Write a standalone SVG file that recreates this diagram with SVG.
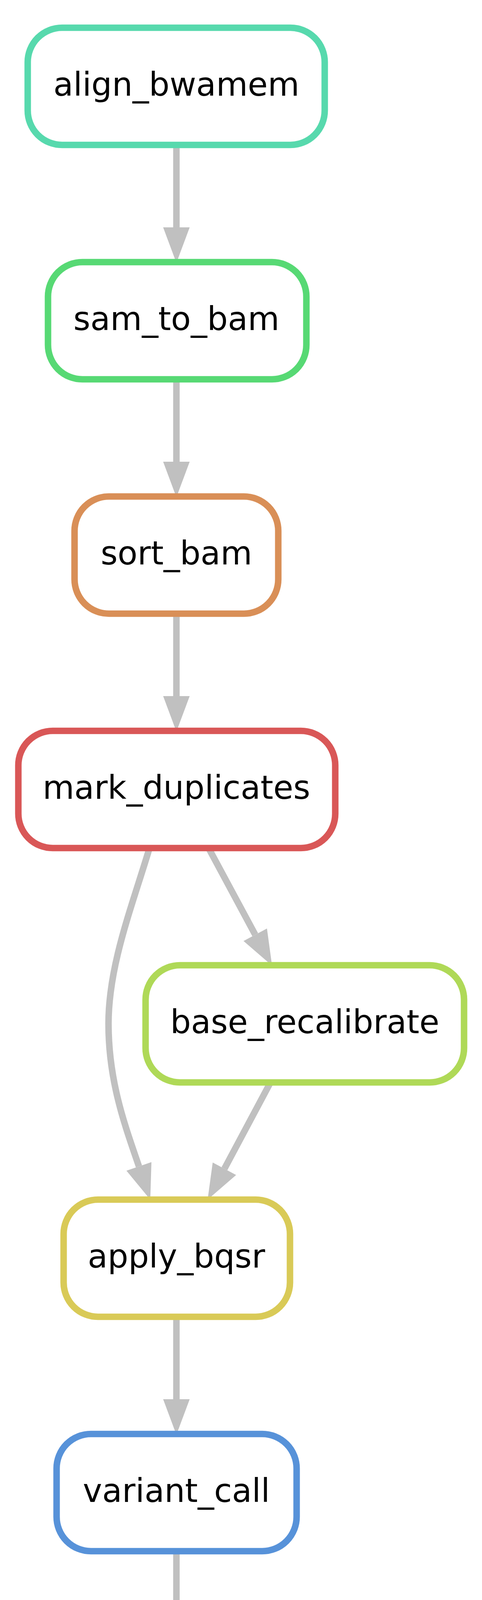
<svg xmlns="http://www.w3.org/2000/svg" width="1235" height="4636" viewBox="0 0 1235 4636">
<style>
.node rect{fill:#ffffff;stroke-width:16.7}
.node text{font-family:"DejaVu Sans","Liberation Sans",sans-serif;font-size:83.35px;fill:#000000;text-anchor:middle}
.edge path{fill:none;stroke:#c0c0c0;stroke-width:16.7}
.edge polygon{fill:#c0c0c0;stroke:none}
</style>
<rect x="0" y="0" width="1235" height="4636" fill="#ffffff"/>
<g id="edges" class="edge">
<path d="M452,371 V582"/><polygon points="418,582 486,582 452,673"/>
<path d="M452,971 V1182"/><polygon points="418,1182 486,1182 452,1273"/>
<path d="M452,1571 V1782"/><polygon points="418,1782 486,1782 452,1873"/>
<path d="M535,2172 L654,2393"/><polygon points="684,2377 624,2409 697,2472"/>
<path d="M383,2171 C338,2321 278,2471 278,2621 C278,2771 322,2886 356,2986"/><polygon points="388,2975 324,2997 385,3071"/>
<path d="M693,2771 L575,2992"/><polygon points="605,3008 545,2976 532,3071"/>
<path d="M452,3371 V3582"/><polygon points="418,3582 486,3582 452,3673"/>
<path d="M452,3971 V4182"/><polygon points="418,4182 486,4182 452,4273"/>
</g>
<g id="align_bwamem" class="node"><rect x="71" y="71" width="761" height="300" rx="88" ry="88" stroke="#57d9ad"/><text x="452" y="245">align_bwamem</text></g>
<g id="sam_to_bam" class="node"><rect x="123" y="671" width="662" height="300" rx="88" ry="88" stroke="#57d974"/><text x="452" y="845">sam_to_bam</text></g>
<g id="sort_bam" class="node"><rect x="191" y="1271" width="522" height="300" rx="88" ry="88" stroke="#d98f57"/><text x="452" y="1445">sort_bam</text></g>
<g id="mark_duplicates" class="node"><rect x="47" y="1871" width="812" height="300" rx="88" ry="88" stroke="#d95757"/><text x="452" y="2045">mark_duplicates</text></g>
<g id="base_recalibrate" class="node"><rect x="373" y="2471" width="816" height="300" rx="88" ry="88" stroke="#afd957"/><text x="781" y="2645">base_recalibrate</text></g>
<g id="apply_bqsr" class="node"><rect x="163" y="3071" width="580" height="300" rx="88" ry="88" stroke="#d9ca57"/><text x="452" y="3245">apply_bqsr</text></g>
<g id="variant_call" class="node"><rect x="145" y="3671" width="615" height="300" rx="88" ry="88" stroke="#5792d9"/><text x="452" y="3845">variant_call</text></g>
<g id="run_all_gvcf" class="node"><rect x="133" y="4271" width="636" height="300" rx="88" ry="88" stroke="#57c9d9"/><text x="452" y="4445">run_all_gvcf</text></g>
</svg>
